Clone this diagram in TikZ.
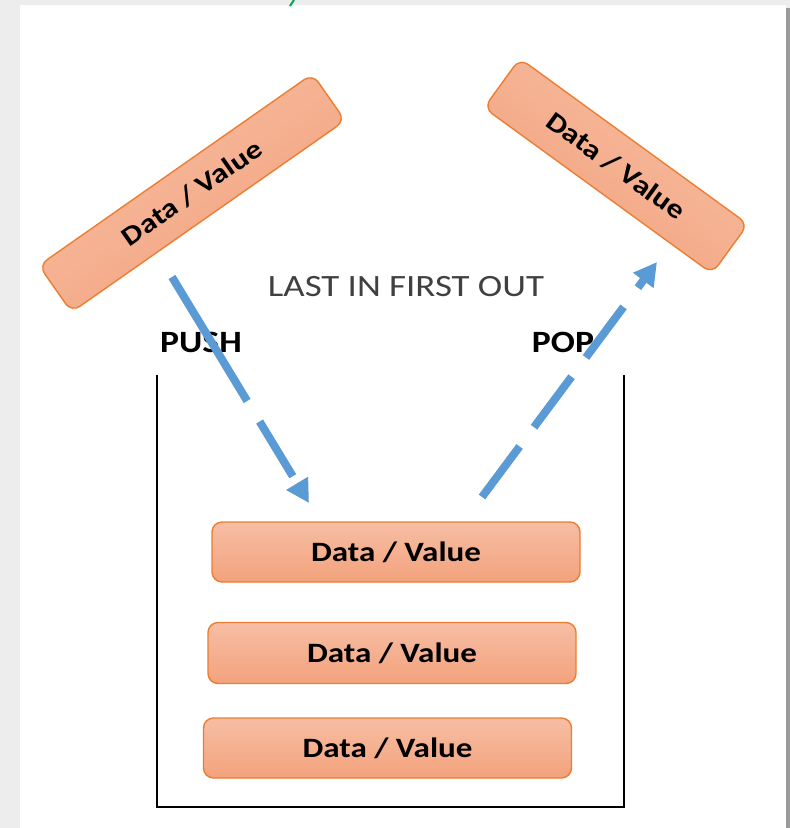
\documentclass[tikz,border=0pt]{standalone}
\usepackage{fontspec}
\setmainfont{Carlito}
\usetikzlibrary{arrows.meta}
\definecolor{boxline}{HTML}{ED7D31}
\definecolor{boxtop}{HTML}{F6BEA4}
\definecolor{boxbot}{HTML}{F3A27C}
\definecolor{arrowblue}{HTML}{5B9BD5}
\definecolor{pagegray}{HTML}{EDEDED}
\definecolor{shadowgray}{HTML}{9A9A9A}
\definecolor{textgray}{HTML}{404040}
\definecolor{markgreen}{HTML}{00A651}
\tikzset{
  databox/.style={draw=boxline, line width=1.4pt, rounded corners=10pt,
    top color=boxtop, bottom color=boxbot, inner sep=0pt,
    font=\fontsize{28}{30}\selectfont\bfseries, text=black},
  flowarrow/.style={draw=arrowblue, line width=8pt,
    -{Triangle[length=23pt,width=24pt]}},
  heading/.style={font=\fontsize{31}{33}\selectfont\bfseries, text=black, inner sep=0pt},
}
\begin{document}
\begin{tikzpicture}[x=1pt,y=-1pt]
\useasboundingbox (0,0) rectangle (790,828);
% page background
\fill[pagegray] (0,0) rectangle (790,828);
\fill[shadowgray] (786,8) rectangle (790,828);
\fill[white] (20,5) rectangle (786,828);
\draw[markgreen, line width=2pt] (290,6) -- (294,0);

% tilted boxes
\node[databox, rotate=35, shading angle=35, minimum width=334pt, minimum height=57pt,
      font=\fontsize{27}{29}\selectfont\bfseries] (pushbox) at (192,193)
  {\scalebox{1.18}[1]{Data / Value}};
\node[databox, rotate=-36, shading angle=-36, minimum width=282pt, minimum height=61pt,
      font=\fontsize{27}{29}\selectfont\bfseries] (popbox) at (616,166)
  {\scalebox{1.18}[1]{Data / Value}};

% container
\draw[black, line width=2pt] (157,375) -- (157,807) -- (624,807) -- (624,375);

% stacked boxes
\node[databox, minimum width=368pt, minimum height=60pt] (b1) at (396,552)
  {\scalebox{1.18}[1]{Data / Value}};
\node[databox, minimum width=368pt, minimum height=61pt] (b2) at (392,653)
  {\scalebox{1.18}[1]{Data / Value}};
\node[databox, minimum width=368pt, minimum height=60pt] (b3) at (387.5,748)
  {\scalebox{1.18}[1]{Data / Value}};

% labels
\node[inner sep=0pt, text=textgray, font=\fontsize{31}{33}\selectfont] (lifo) at (406,287)
  {\scalebox{1.19}[1]{LAST IN FIRST OUT}};
\node[heading] (push) at (201,342) {\scalebox{1.15}[1]{PUSH}};
\node[heading] (pop) at (563,342) {\scalebox{1.15}[1]{POP}};

% arrows
\coordinate (pushstart) at (172,277);
\coordinate (pushend) at (309,503);
\coordinate (popstart) at (482,497);
\coordinate (popend) at (657,262);
\draw[flowarrow, dash pattern=on 145pt off 24pt on 64pt off 30pt] (pushstart) -- (pushend);
\draw[flowarrow, dash pattern=on 63pt off 24pt] (popstart) -- (popend);
\end{tikzpicture}
\end{document}
